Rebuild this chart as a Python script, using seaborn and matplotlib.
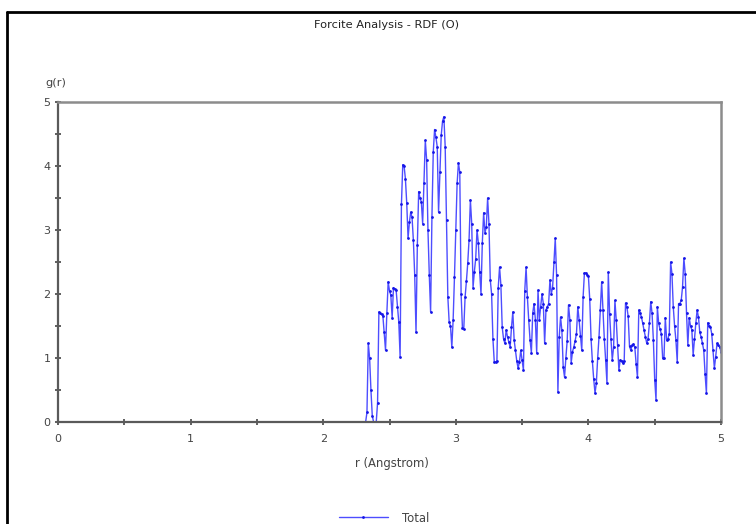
import numpy as np
import pandas as pd
import matplotlib
matplotlib.use('Agg')
import matplotlib.pyplot as plt
from matplotlib.lines import Line2D
import seaborn as sns

sns.set_style('white')
plt.rcParams['font.family'] = ['DejaVu Sans']

title = 'Forcite Analysis - RDF (O)'
x_label = 'r (Angstrom)'
y_label = 'g(r)'
series_name = 'Total'

# r grid, 0.01 A steps
r = np.round(np.arange(0, 5.001, 0.01), 2)

# g(r) is flat zero up to 2.29 A
g_zero = [0.0] * 230

# g(r) from 2.30 to 5.00 A
g_tail = [
    0.00, 0.00, 0.00, 0.15, 1.23, 1.00, 0.50, 0.10, 0.00, 0.00,   # 2.30
    0.00, 0.30, 1.72, 1.70, 1.68, 1.66, 1.40, 1.12, 1.70, 2.19,   # 2.40
    2.05, 1.98, 1.63, 2.10, 2.08, 2.06, 1.80, 1.56, 1.02, 3.40,   # 2.50
    4.02, 4.00, 3.80, 3.42, 2.87, 3.12, 3.28, 3.20, 2.84, 2.30,   # 2.60
    1.40, 2.77, 3.60, 3.50, 3.44, 3.10, 3.73, 4.40, 4.10, 3.00,   # 2.70
    2.30, 1.72, 3.20, 4.22, 4.57, 4.45, 4.30, 3.28, 3.90, 4.48,   # 2.80
    4.70, 4.77, 4.30, 3.16, 1.95, 1.56, 1.50, 1.17, 1.60, 2.27,   # 2.90
    3.00, 3.73, 4.05, 3.90, 2.00, 1.47, 1.45, 1.95, 2.20, 2.48,   # 3.00
    2.85, 3.47, 3.10, 2.10, 2.35, 2.55, 3.00, 2.80, 2.35, 2.00,   # 3.10
    2.80, 3.27, 2.95, 3.05, 3.50, 3.10, 2.22, 2.00, 1.30, 0.94,   # 3.20
    0.94, 0.95, 2.10, 2.42, 2.14, 1.48, 1.30, 1.23, 1.44, 1.33,   # 3.30
    1.25, 1.17, 1.48, 1.72, 1.28, 1.12, 0.95, 0.84, 0.94, 1.12,   # 3.40
    0.97, 0.81, 2.05, 2.42, 1.95, 1.59, 1.28, 1.08, 1.70, 1.85,   # 3.50
    1.60, 1.08, 2.06, 1.60, 1.80, 2.00, 1.85, 1.23, 1.75, 1.80,   # 3.60
    1.85, 2.22, 2.00, 2.10, 2.50, 2.87, 2.30, 0.47, 1.33, 1.64,   # 3.70
    1.43, 0.86, 0.70, 1.00, 1.27, 1.83, 1.60, 0.92, 1.10, 1.17,   # 3.80
    1.27, 1.38, 1.80, 1.59, 1.35, 1.12, 1.95, 2.33, 2.33, 2.30,   # 3.90
    2.28, 1.92, 1.30, 0.95, 0.67, 0.45, 0.61, 1.00, 1.33, 1.75,   # 4.00
    2.19, 1.75, 1.30, 0.97, 0.61, 2.34, 1.69, 1.30, 0.97, 1.17,   # 4.10
    1.90, 1.59, 1.20, 0.81, 0.97, 0.95, 0.92, 0.95, 1.86, 1.80,   # 4.20
    1.65, 1.18, 1.12, 1.20, 1.22, 1.17, 0.91, 0.70, 1.75, 1.70,   # 4.30
    1.64, 1.54, 1.43, 1.33, 1.23, 1.30, 1.54, 1.88, 1.70, 1.28,   # 4.40
    0.66, 0.34, 1.80, 1.54, 1.45, 1.38, 1.00, 1.00, 1.63, 1.28,   # 4.50
    1.30, 1.38, 2.50, 2.32, 1.80, 1.50, 1.28, 0.94, 1.85, 1.85,   # 4.60
    1.90, 2.11, 2.56, 2.32, 1.70, 1.20, 1.63, 1.50, 1.44, 1.05,   # 4.70
    1.30, 1.54, 1.75, 1.64, 1.40, 1.33, 1.23, 1.12, 0.75, 0.45,   # 4.80
    1.55, 1.50, 1.49, 1.38, 1.12, 0.84, 1.02, 1.23, 1.20, 1.17,   # 4.90
    1.10,                                                         # 5.00
]

g = g_zero + g_tail
df = pd.DataFrame({'r': r, 'g': g})

fig = plt.figure(figsize=(7.56, 5.24), dpi=100)
ax = fig.add_axes([58 / 756, 1 - 422 / 524, 663 / 756, 320 / 524])

sns.lineplot(data=df, x='r', y='g', ax=ax, sort=False, color='#4d4dff',
             linewidth=1.0, marker='o', markersize=2.0, markeredgewidth=0,
             markerfacecolor='#1414e6', label=series_name)

ax.set_xlim(0, 5)
ax.set_ylim(0, 5)
ax.set_xticks([0, 1, 2, 3, 4, 5])
ax.set_yticks([0, 1, 2, 3, 4, 5])
ax.set_xticks(np.arange(0.5, 5, 1), minor=True)
ax.set_yticks(np.arange(0.5, 5, 1), minor=True)
ax.tick_params(which='both', direction='inout', length=5, width=1.2,
               color='#444444', labelsize=8, labelcolor='#444444',
               bottom=True, left=True, pad=3)
ax.tick_params(axis='x', pad=6)
ax.set_xlabel('')
ax.set_ylabel('')

for side in ['left', 'bottom']:
    ax.spines[side].set_color('#5a5a5a')
    ax.spines[side].set_linewidth(1.6)
for side in ['top', 'right']:
    ax.spines[side].set_color('#8c8c8c')
    ax.spines[side].set_linewidth(1.8)

fig.text(387 / 756, 1 - 25 / 524, title, ha='center', va='center',
         fontsize=8.2, color='#222222')
fig.text(56 / 756, 1 - 83 / 524, y_label, ha='center', va='center',
         fontsize=8.2, color='#444444')
fig.text(392 / 756, 1 - 463 / 524, x_label, ha='center', va='center',
         fontsize=8.4, color='#444444')

ax.legend(loc='center', bbox_to_anchor=(384 / 756, 1 - 518 / 524),
          bbox_transform=fig.transFigure, frameon=False, fontsize=8.4,
          handlelength=4.2, handletextpad=1.2, labelcolor='#444444')

# window border of the screenshot
fig.add_artist(Line2D([7 / 756, 1], [1 - 12 / 524, 1 - 12 / 524],
                      transform=fig.transFigure, color='black', linewidth=2))
fig.add_artist(Line2D([7 / 756, 7 / 756], [0, 1 - 12 / 524],
                      transform=fig.transFigure, color='black', linewidth=2))

fig.savefig('out.png', dpi=100)
